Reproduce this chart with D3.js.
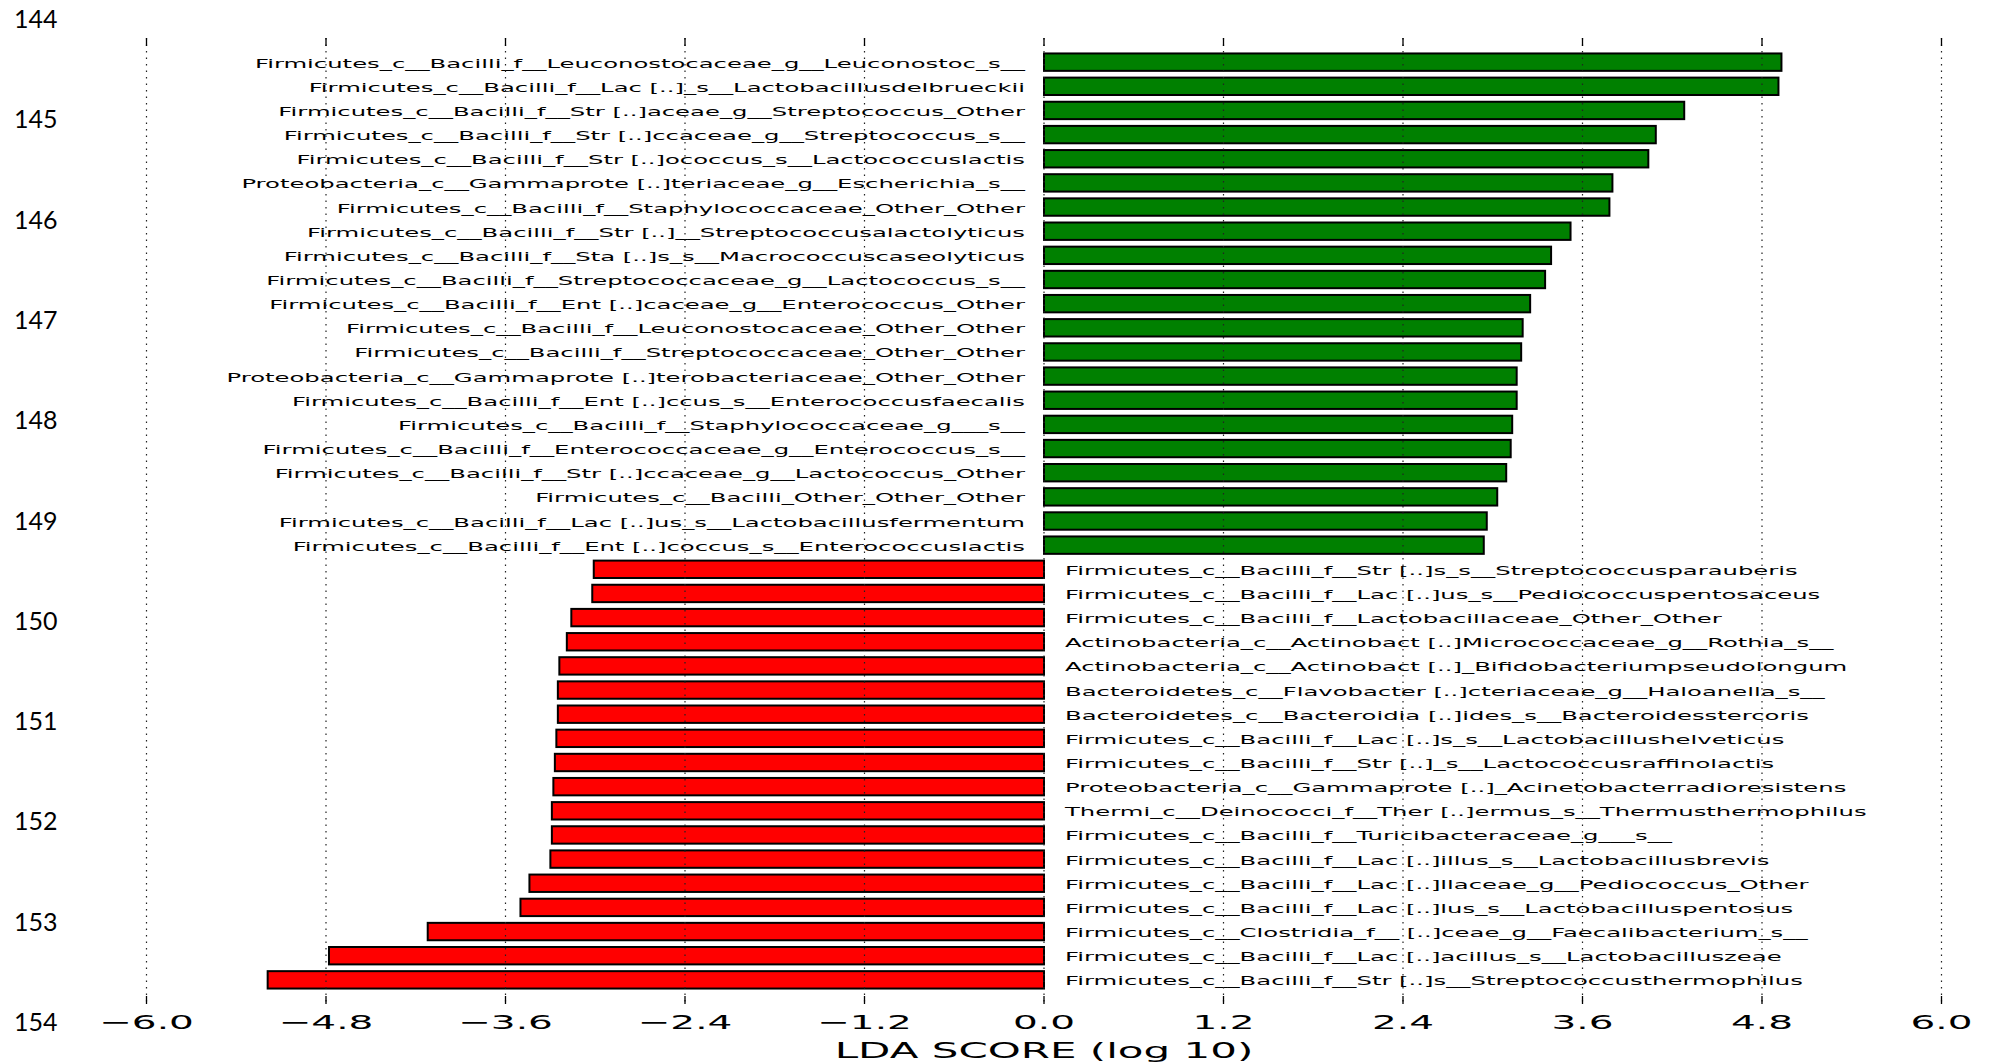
<!DOCTYPE html>
<html>
<head>
<meta charset="utf-8">
<script src="https://cdn.jsdelivr.net/npm/d3@7"></script>
<style>
  body { margin: 0; background: #fff; }
</style>
</head>
<body>
<div id="chart"></div>
<script>
// feature names, top to bottom
const featureNames = [
  "Firmicutes_c__Bacilli_f__Leuconostocaceae_g__Leuconostoc_s__",
  "Firmicutes_c__Bacilli_f__Lac [..]_s__Lactobacillusdelbrueckii",
  "Firmicutes_c__Bacilli_f__Str [..]aceae_g__Streptococcus_Other",
  "Firmicutes_c__Bacilli_f__Str [..]ccaceae_g__Streptococcus_s__",
  "Firmicutes_c__Bacilli_f__Str [..]ococcus_s__Lactococcuslactis",
  "Proteobacteria_c__Gammaprote [..]teriaceae_g__Escherichia_s__",
  "Firmicutes_c__Bacilli_f__Staphylococcaceae_Other_Other",
  "Firmicutes_c__Bacilli_f__Str [..]__Streptococcusalactolyticus",
  "Firmicutes_c__Bacilli_f__Sta [..]s_s__Macrococcuscaseolyticus",
  "Firmicutes_c__Bacilli_f__Streptococcaceae_g__Lactococcus_s__",
  "Firmicutes_c__Bacilli_f__Ent [..]caceae_g__Enterococcus_Other",
  "Firmicutes_c__Bacilli_f__Leuconostocaceae_Other_Other",
  "Firmicutes_c__Bacilli_f__Streptococcaceae_Other_Other",
  "Proteobacteria_c__Gammaprote [..]terobacteriaceae_Other_Other",
  "Firmicutes_c__Bacilli_f__Ent [..]ccus_s__Enterococcusfaecalis",
  "Firmicutes_c__Bacilli_f__Staphylococcaceae_g___s__",
  "Firmicutes_c__Bacilli_f__Enterococcaceae_g__Enterococcus_s__",
  "Firmicutes_c__Bacilli_f__Str [..]ccaceae_g__Lactococcus_Other",
  "Firmicutes_c__Bacilli_Other_Other_Other",
  "Firmicutes_c__Bacilli_f__Lac [..]us_s__Lactobacillusfermentum",
  "Firmicutes_c__Bacilli_f__Ent [..]coccus_s__Enterococcuslactis",
  "Firmicutes_c__Bacilli_f__Str [..]s_s__Streptococcusparauberis",
  "Firmicutes_c__Bacilli_f__Lac [..]us_s__Pediococcuspentosaceus",
  "Firmicutes_c__Bacilli_f__Lactobacillaceae_Other_Other",
  "Actinobacteria_c__Actinobact [..]Micrococcaceae_g__Rothia_s__",
  "Actinobacteria_c__Actinobact [..]_Bifidobacteriumpseudolongum",
  "Bacteroidetes_c__Flavobacter [..]cteriaceae_g__Haloanella_s__",
  "Bacteroidetes_c__Bacteroidia [..]ides_s__Bacteroidesstercoris",
  "Firmicutes_c__Bacilli_f__Lac [..]s_s__Lactobacillushelveticus",
  "Firmicutes_c__Bacilli_f__Str [..]_s__Lactococcusraffinolactis",
  "Proteobacteria_c__Gammaprote [..]_Acinetobacterradioresistens",
  "Thermi_c__Deinococci_f__Ther [..]ermus_s__Thermusthermophilus",
  "Firmicutes_c__Bacilli_f__Turicibacteraceae_g___s__",
  "Firmicutes_c__Bacilli_f__Lac [..]illus_s__Lactobacillusbrevis",
  "Firmicutes_c__Bacilli_f__Lac [..]llaceae_g__Pediococcus_Other",
  "Firmicutes_c__Bacilli_f__Lac [..]lus_s__Lactobacilluspentosus",
  "Firmicutes_c__Clostridia_f__ [..]ceae_g__Faecalibacterium_s__",
  "Firmicutes_c__Bacilli_f__Lac [..]acillus_s__Lactobacilluszeae",
  "Firmicutes_c__Bacilli_f__Str [..]s__Streptococcusthermophilus"
];

// LDA scores (log 10), same order; negative = red class
const ldaScores = [
  4.93, 4.91, 4.28, 4.09, 4.04, 3.80, 3.78, 3.52, 3.39, 3.35,
  3.25, 3.20, 3.19, 3.16, 3.16, 3.13, 3.12, 3.09, 3.03, 2.96, 2.94,
  -3.01, -3.02, -3.16, -3.19, -3.24, -3.25, -3.25, -3.26, -3.27, -3.28,
  -3.29, -3.29, -3.30, -3.44, -3.50, -4.12, -4.78, -5.19
];

const xTicks = [-6.0, -4.8, -3.6, -2.4, -1.2, 0.0, 1.2, 2.4, 3.6, 4.8, 6.0];
const rowNumbers = [144, 145, 146, 147, 148, 149, 150, 151, 152, 153, 154];

const W = 1991, H = 1064;
const stretch = 2; // the picture's text is stretched sideways

const svg = d3.select("#chart").append("svg")
    .attr("width", W)
    .attr("height", H)
    .style("display", "block");

svg.append("rect").attr("width", W).attr("height", H).attr("fill", "#fff");

const x = d3.scaleLinear().domain([-6, 6]).range([146.5, 1941.5]);
const y = d3.scaleLinear().domain([-1, featureNames.length]).range([38, 1004]);
const rowY = d3.scaleLinear().domain([144, 154]).range([19.2, 1022]);

const step = y(1) - y(0);
const barH = step * 0.72;

const data = featureNames.map((name, i) => ({ name, score: ldaScores[i], i }));

// bars
svg.selectAll(".bar")
  .data(data)
  .enter().append("rect")
    .attr("class", "bar")
    .attr("x", d => x(Math.min(0, d.score)))
    .attr("y", d => y(d.i) - barH / 2)
    .attr("width", d => Math.abs(x(d.score) - x(0)))
    .attr("height", barH)
    .attr("fill", d => d.score > 0 ? "#008000" : "#ff0000")
    .attr("stroke", "#000")
    .attr("stroke-width", 2);

// feature labels
svg.selectAll(".label")
  .data(data)
  .enter().append("text")
    .attr("class", "label")
    .attr("transform", d => {
        const lx = d.score > 0 ? x(0) - 19 : x(0) + 21;
        return "translate(" + lx + "," + (y(d.i) + 5.5) + ") scale(" + stretch + ",1)";
    })
    .attr("text-anchor", d => d.score > 0 ? "end" : "start")
    .style("font-family", "'DejaVu Sans', sans-serif")
    .style("font-size", "12.15px")
    .attr("fill", "#000")
    .text(d => d.name);

// dotted grid, drawn over bars
svg.selectAll(".grid")
  .data(xTicks)
  .enter().append("line")
    .attr("class", "grid")
    .attr("x1", d => x(d)).attr("x2", d => x(d))
    .attr("y1", y(-1)).attr("y2", y(featureNames.length))
    .attr("stroke", "#222")
    .attr("stroke-width", 1.2)
    .attr("stroke-dasharray", "1.5,5");

// tick marks top and bottom
const tickLen = 8;
svg.selectAll(".tick-top")
  .data(xTicks)
  .enter().append("line")
    .attr("x1", d => x(d)).attr("x2", d => x(d))
    .attr("y1", y(-1)).attr("y2", y(-1) + tickLen)
    .attr("stroke", "#000").attr("stroke-width", 1.3);

svg.selectAll(".tick-bottom")
  .data(xTicks)
  .enter().append("line")
    .attr("x1", d => x(d)).attr("x2", d => x(d))
    .attr("y1", y(featureNames.length) - tickLen).attr("y2", y(featureNames.length))
    .attr("stroke", "#000").attr("stroke-width", 1.3);

const fmt = d3.format(".1f");
svg.selectAll(".tick-label")
  .data(xTicks)
  .enter().append("text")
    .attr("transform", d => "translate(" + x(d) + ",1028.5) scale(" + stretch + ",1)")
    .attr("text-anchor", "middle")
    .style("font-family", "'DejaVu Sans', sans-serif")
    .style("font-size", "19.5px")
    .text(d => fmt(d).replace("-", "\u2212"));

svg.append("text")
    .attr("transform", "translate(" + x(0) + ",1058) scale(" + stretch + ",1)")
    .attr("text-anchor", "middle")
    .style("font-family", "'DejaVu Sans', sans-serif")
    .style("font-size", "21px")
    .text("LDA SCORE (log 10)");

// spreadsheet row numbers down the left edge
svg.selectAll(".row-num")
  .data(rowNumbers)
  .enter().append("text")
    .attr("x", 14)
    .attr("y", d => rowY(d) + 9)
    .style("font-family", "Lato, 'Open Sans', sans-serif")
    .style("font-size", "25px")
    .attr("fill", "#000")
    .text(d => d);
</script>
</body>
</html>
